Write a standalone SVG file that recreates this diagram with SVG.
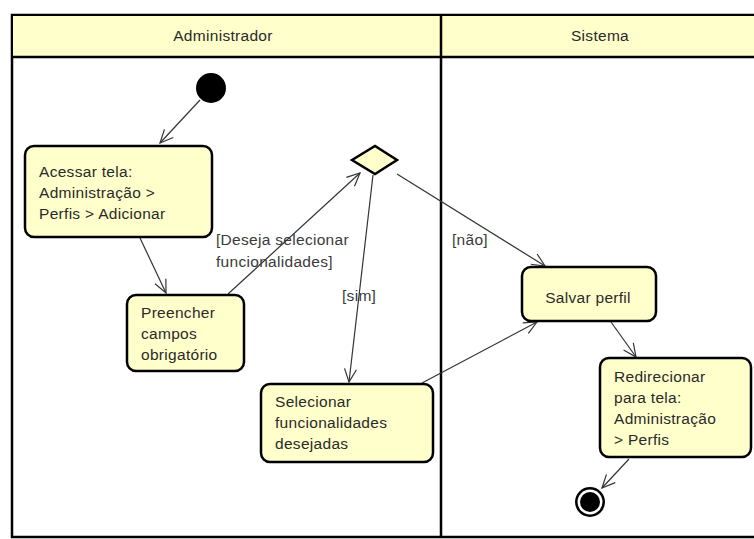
<svg xmlns="http://www.w3.org/2000/svg" width="754" height="539" viewBox="0 0 754 539">
  <style>
    .lane-head { fill: #ffffcc; stroke: #000; stroke-width: 2; }
    .lane { fill: #fff; stroke: #000; stroke-width: 2.5; }
    .act { fill: #ffffcc; stroke: #000; stroke-width: 2.5; }
    .dec { fill: #ffffcc; stroke: #000; stroke-width: 2.5; }
    .txt { font-family: "Liberation Sans", Arial, sans-serif; font-size: 15.5px; fill: #2a2a2a; letter-spacing: 0.3px; }
    .head { font-family: "Liberation Sans", Arial, sans-serif; font-size: 15.5px; fill: #2a2a2a; letter-spacing: 0.3px; text-anchor: middle; }
    .edge { fill: none; stroke: #333; stroke-width: 1.2; marker-end: url(#open); }
    .guard { font-family: "Liberation Sans", Arial, sans-serif; font-size: 15.5px; fill: #3a3a3a; letter-spacing: 0.3px; }
  </style>
  <defs>
    <marker id="open" markerUnits="userSpaceOnUse" markerWidth="16" markerHeight="14" viewBox="-14 -7 16 14" refX="0" refY="0" orient="auto">
      <path d="M-13,-6 L0,0 L-13,6" fill="none" stroke="#333" stroke-width="1.2"/>
    </marker>
  </defs>

  <!-- swimlanes -->
  <g id="lanes">
    <rect class="lane" x="12" y="15" width="760" height="522"/>
    <rect class="lane-head" x="12" y="15" width="760" height="42"/>
    <line x1="441" y1="15" x2="441" y2="537" stroke="#000" stroke-width="2.5"/>
    <line x1="12" y1="57" x2="760" y2="57" stroke="#000" stroke-width="2.5"/>
    <text class="head" x="223" y="41">Administrador</text>
    <text class="head" x="600" y="41">Sistema</text>
  </g>

  <!-- connectors -->
  <g id="connectors">
    <line class="edge" x1="200" y1="100" x2="160" y2="143"/>
    <line class="edge" x1="140" y1="238" x2="166" y2="293"/>
    <line class="edge" x1="228" y1="294" x2="360" y2="173"/>
    <line class="edge" x1="373" y1="175" x2="349" y2="382"/>
    <line class="edge" x1="397" y1="174" x2="545" y2="266"/>
    <line class="edge" x1="422" y1="383" x2="537" y2="322"/>
    <line class="edge" x1="611" y1="322" x2="636" y2="357"/>
    <line class="edge" x1="629" y1="459" x2="602" y2="488"/>
    <text class="guard" x="216" y="245">[Deseja selecionar</text>
    <text class="guard" x="216" y="267">funcionalidades]</text>
    <text class="guard" x="342" y="301">[sim]</text>
    <text class="guard" x="452" y="245">[não]</text>
  </g>

  <g id="start">
    <circle cx="211" cy="88" r="15" fill="#000"/>
  </g>

  <g id="acessar">
    <rect class="act" x="25" y="146" width="187" height="91" rx="9"/>
    <text class="txt" x="39" y="177">Acessar tela:</text>
    <text class="txt" x="39" y="198">Administração &gt;</text>
    <text class="txt" x="39" y="219">Perfis &gt; Adicionar</text>
  </g>

  <g id="preencher">
    <rect class="act" x="127" y="295" width="117" height="76" rx="9"/>
    <text class="txt" x="141" y="318">Preencher</text>
    <text class="txt" x="141" y="339">campos</text>
    <text class="txt" x="141" y="360">obrigatório</text>
  </g>

  <g id="decisao">
    <polygon class="dec" points="352,160 375,146 397,160 375,174"/>
  </g>

  <g id="selecionar">
    <rect class="act" x="261" y="384" width="172" height="78" rx="9"/>
    <text class="txt" x="275" y="407">Selecionar</text>
    <text class="txt" x="275" y="428">funcionalidades</text>
    <text class="txt" x="275" y="449">desejadas</text>
  </g>

  <g id="salvar">
    <rect class="act" x="522" y="267" width="134" height="54" rx="9"/>
    <text class="txt" x="588" y="303" text-anchor="middle">Salvar perfil</text>
  </g>

  <g id="redirecionar">
    <rect class="act" x="600" y="358" width="151" height="99" rx="9"/>
    <text class="txt" x="614" y="382">Redirecionar</text>
    <text class="txt" x="614" y="403">para tela:</text>
    <text class="txt" x="614" y="424">Administração</text>
    <text class="txt" x="614" y="445">&gt; Perfis</text>
  </g>

  <g id="fim">
    <circle cx="590" cy="502" r="15" fill="#000"/>
    <circle cx="590" cy="502" r="12.5" fill="#fff"/>
    <circle cx="590" cy="502" r="10" fill="#000"/>
  </g>
</svg>
